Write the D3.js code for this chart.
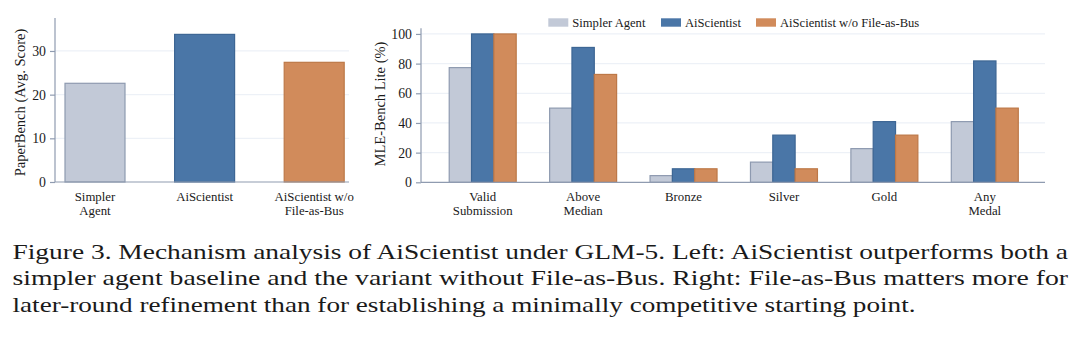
<!DOCTYPE html>
<html>
<head>
<meta charset="utf-8">
<script src="https://cdn.jsdelivr.net/npm/d3@7"></script>
<style>
  html, body { margin: 0; padding: 0; background: #fff; }
  svg text { font-family: "Liberation Serif", "Times New Roman", serif !important; fill: #1a1a1a; }
</style>
</head>
<body>
<svg id="chart" width="1080" height="338" font-family="Liberation Serif, serif"></svg>
<script>
// ---------- data ----------
const leftCategories = ["Simpler Agent", "AiScientist", "AiScientist w/o File-as-Bus"];
const leftLabelLines = [["Simpler", "Agent"], ["AiScientist"], ["AiScientist w/o", "File-as-Bus"]];
const leftValues = [22.6, 33.8, 27.4];
const leftTicks = [0, 10, 20, 30];

const rightCategories = ["Valid Submission", "Above Median", "Bronze", "Silver", "Gold", "Any Medal"];
const rightLabelLines = [["Valid", "Submission"], ["Above", "Median"], ["Bronze"], ["Silver"], ["Gold"], ["Any", "Medal"]];
const seriesNames = ["Simpler Agent", "AiScientist", "AiScientist w/o File-as-Bus"];
const simplerAgent = [77.3, 50.0, 4.5, 13.6, 22.7, 40.9];
const aiScientist = [100.0, 90.9, 9.1, 31.8, 40.9, 81.8];
const aiScientistNoBus = [100.0, 72.7, 9.1, 9.1, 31.8, 50.0];
const rightTicks = [0, 20, 40, 60, 80, 100];

const captionLines = [
  "Figure 3. Mechanism analysis of AiScientist under GLM-5. Left: AiScientist outperforms both a",
  "simpler agent baseline and the variant without File-as-Bus. Right: File-as-Bus matters more for",
  "later-round refinement than for establishing a minimally competitive starting point."
];

// ---------- styles ----------
const fills = ["#c2c9d7", "#4a76a7", "#d18b5b"];
const strokes = ["#8e9ab0", "#3d6694", "#bd7847"];
const axisColor = "#8f9bb0";
const gridColor = "#edf1f7";
const serif = "Liberation Serif, serif";

const svg = d3.select("#chart");

function drawGrid(g, x0, x1, yScale, ticks) {
  g.append("g").selectAll("line").data(ticks.filter(t => t > 0)).join("line")
    .attr("x1", x0).attr("x2", x1)
    .attr("y1", d => yScale(d)).attr("y2", d => yScale(d))
    .attr("stroke", gridColor).attr("stroke-width", 1.2);
}

function drawAxisLines(g, x0, x1, y0, yTop, yScale, ticks) {
  g.append("line").attr("x1", x0).attr("x2", x1).attr("y1", y0).attr("y2", y0)
    .attr("stroke", axisColor).attr("stroke-width", 1.2);
  const ax = d3.axisLeft(yScale).tickValues(ticks).tickSize(5).tickPadding(4);
  const a = g.append("g").attr("transform", `translate(${x0},0)`).call(ax);
  a.attr("font-family", serif).attr("font-size", "13.5px");
  a.select(".domain").remove();
  a.append("line").attr("x1", 0).attr("x2", 0).attr("y1", yTop).attr("y2", y0)
    .attr("stroke", axisColor).attr("stroke-width", 1.2);
  a.selectAll(".tick line").attr("stroke", axisColor).attr("stroke-width", 1.2);
  a.selectAll(".tick text").attr("font-size", "13.8px")
    .attr("font-family", serif).attr("fill", "#1a1a1a");
}

// ---------- left chart ----------
{
  const g = svg.append("g");
  const y = d3.scaleLinear().domain([0, 37.55]).range([182, 18]);
  const x = d3.scaleBand().domain(leftCategories).range([40.2, 369]).paddingInner(0.4526).paddingOuter(0.2263);
  drawGrid(g, 55, 349, y, leftTicks);
  g.append("g").selectAll("rect").data(leftCategories).join("rect")
    .attr("x", d => x(d)).attr("width", x.bandwidth())
    .attr("y", (d, i) => y(leftValues[i])).attr("height", (d, i) => y(0) - y(leftValues[i]))
    .attr("fill", (d, i) => fills[i]).attr("stroke", (d, i) => strokes[i]).attr("stroke-width", 1.2);
  drawAxisLines(g, 55, 349, 182, 18, y, leftTicks);
  leftCategories.forEach((c, i) => {
    const cx = x(c) + x.bandwidth() / 2;
    const t = g.append("text").attr("text-anchor", "middle").attr("font-size", "12.8px").attr("font-family", serif);
    leftLabelLines[i].forEach((ln, j) => t.append("tspan").attr("x", cx).attr("y", 200.5 + j * 14).text(ln));
  });
  g.append("text").attr("transform", "translate(24.5,102.5) rotate(-90)").attr("font-family", serif)
    .attr("text-anchor", "middle").attr("font-size", "14.5px").text("PaperBench (Avg. Score)");
}

// ---------- right chart ----------
{
  const g = svg.append("g");
  const y = d3.scaleLinear().domain([0, 103.8]).range([182.3, 28.3]);
  const x0 = d3.scaleBand().domain(rightCategories).range([432.5, 1035]).paddingInner(0.333).paddingOuter(0.1665);
  const x1 = d3.scaleBand().domain(seriesNames).range([0, x0.bandwidth()]).padding(0);
  drawGrid(g, 421, 1045, y, rightTicks);
  const series = [simplerAgent, aiScientist, aiScientistNoBus];
  const grp = g.append("g").selectAll("g").data(rightCategories).join("g")
    .attr("transform", d => `translate(${x0(d)},0)`);
  grp.selectAll("rect").data((d, ci) => seriesNames.map((s, si) => ({ s, si, v: series[si][ci] }))).join("rect")
    .attr("x", d => x1(d.s)).attr("width", x1.bandwidth())
    .attr("y", d => y(d.v)).attr("height", d => y(0) - y(d.v))
    .attr("fill", d => fills[d.si]).attr("stroke", d => strokes[d.si]).attr("stroke-width", 1.2);
  drawAxisLines(g, 421, 1045, 182.3, 28.3, y, rightTicks);
  rightCategories.forEach((c, i) => {
    const cx = x0(c) + x0.bandwidth() / 2;
    const t = g.append("text").attr("text-anchor", "middle").attr("font-size", "12.8px").attr("font-family", serif);
    rightLabelLines[i].forEach((ln, j) => t.append("tspan").attr("x", cx).attr("y", 200.5 + j * 14).text(ln));
  });
  g.append("text").attr("transform", "translate(384.5,104) rotate(-90)").attr("font-family", serif)
    .attr("text-anchor", "middle").attr("font-size", "14.5px").text("MLE-Bench Lite (%)");

  // legend
  const legendX = [548.3, 661, 756];
  const lg = g.append("g").selectAll("g").data(seriesNames).join("g")
    .attr("transform", (d, i) => `translate(${legendX[i]},0)`);
  lg.append("rect").attr("x", 0).attr("y", 18.3).attr("width", 20).attr("height", 8.4)
    .attr("fill", (d, i) => fills[i]);
  lg.append("text").attr("x", 24).attr("y", 26.5).attr("font-size", "12.6px").attr("font-family", serif).text(d => d);
}

// ---------- caption ----------
{
  const g = svg.append("g");
  const baselines = [258.5, 285, 311.5];
  const widths = [1055.5, 1055.5, 903];
  captionLines.forEach((ln, i) => {
    g.append("text").attr("x", 12.5).attr("y", baselines[i]).attr("font-family", serif)
      .attr("font-size", "21.5px").attr("fill", "#111")
      .attr("textLength", widths[i]).attr("lengthAdjust", "spacingAndGlyphs").text(ln);
  });
}
</script>
</body>
</html>
